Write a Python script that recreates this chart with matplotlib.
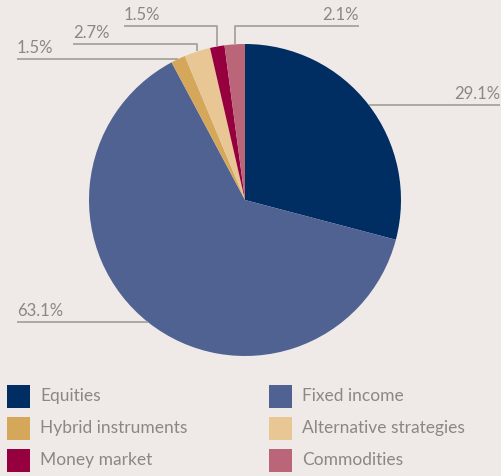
import numpy as np
import matplotlib
matplotlib.use("Agg")
from matplotlib import pyplot as plt
from matplotlib.patches import Rectangle

# data
labels = ["Equities", "Fixed income", "Hybrid instruments",
          "Alternative strategies", "Money market", "Commodities"]
shares = [29.1, 63.1, 1.5, 2.7, 1.5, 2.1]
colors = ["#002d62", "#4f6292", "#d5a75b", "#e8c795", "#97003f", "#bb6678"]

W, H = 502, 476
bg = "#efeae7"
text_col = "#8c8781"
line_col = "#a6a29c"

plt.rcParams['font.family'] = ['Lato', 'DejaVu Sans']

fig = plt.figure(figsize=(W / 100, H / 100), dpi=100, facecolor=bg)
ax = fig.add_axes([0, 0, 1, 1])
ax.set_xlim(0, W)
ax.set_ylim(0, H)
ax.set_aspect('equal')
ax.axis('off')
ax.set_facecolor(bg)

cx, cy, r = 245, H - 200, 156
wedges, _ = ax.pie(shares, colors=colors, startangle=90, counterclock=False,
                   center=(cx, cy), radius=r, frame=True,
                   wedgeprops=dict(linewidth=0))
ax.set_xlim(0, W)
ax.set_ylim(0, H)
ax.axis('off')

# label layout: (text end x, horizontal line y in px from top or None, side)
layout = [(500, None, 'right'),
          (17, None, 'left'),
          (17, None, 'left'),
          (73, 44, 'left'),
          (124, 26, 'left'),
          (359, 26, 'right')]

for w, v, (ex, ly, side) in zip(wedges, shares, layout):
    ang = np.deg2rad((w.theta1 + w.theta2) / 2)
    px, py = cx + r * np.cos(ang), cy + r * np.sin(ang)
    if ly is None:
        hy = py
        ax.plot([px, ex], [hy, hy], color=line_col, lw=1.3, solid_capstyle='butt')
    else:
        hy = H - ly
        ax.plot([px, px, ex], [py, hy, hy], color=line_col, lw=1.3,
                solid_capstyle='butt')
    if side == 'right':
        ax.text(ex, hy + 3, f"{v}%", ha='right', va='bottom', color=text_col, fontsize=12)
    else:
        ax.text(ex, hy + 3, f"{v}%", ha='left', va='bottom', color=text_col, fontsize=12)

# legend
for i, (lab, c) in enumerate(zip(labels, colors)):
    col, row = i % 2, i // 2
    x0 = 7 + col * 262
    yc = H - (396 + row * 32)
    ax.add_patch(Rectangle((x0, yc - 11.5), 23, 23, color=c, lw=0))
    ax.text(x0 + 33, yc, lab, ha='left', va='center', color=text_col, fontsize=12.5)

fig.savefig("out.png", dpi=100, facecolor=bg)
